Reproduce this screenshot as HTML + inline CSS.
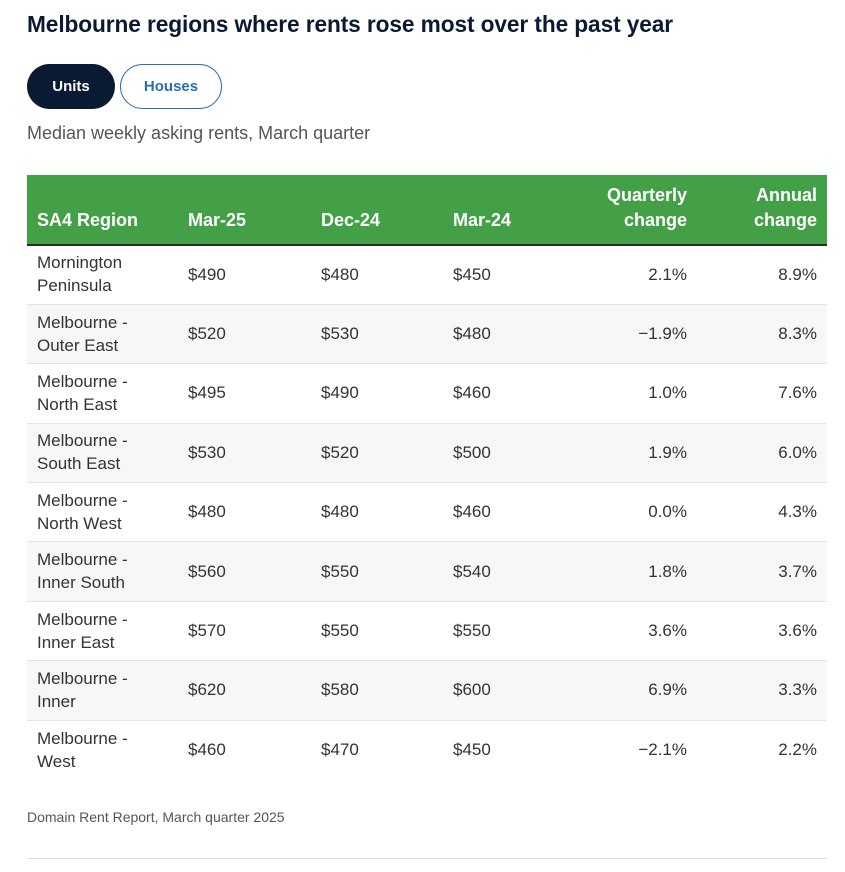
<!DOCTYPE html>
<html><head><meta charset="utf-8"><style>
*{margin:0;padding:0;box-sizing:border-box}
body{width:845px;height:872px;background:#fff;font-family:"Liberation Sans",sans-serif;position:relative;overflow:hidden}
h1{position:absolute;left:27px;top:11px;font-size:22.7px;font-weight:bold;color:#0b1a33;letter-spacing:-0.1px}
.btn{position:absolute;top:64px;height:45px;border-radius:23px;font-size:15px;font-weight:bold;display:flex;align-items:center;justify-content:center}
.u{left:27px;width:88px;background:#0b1a33;color:#fff}
.h{left:120px;width:102px;border:1.5px solid #2a6db5;color:#2a6db5;background:#fff}
.sub{position:absolute;left:27px;top:123px;font-size:18px;color:#555}
table{position:absolute;left:27px;top:175px;width:800px;border-collapse:collapse;font-size:17px;color:#333}
th{background:#43a047;color:#fff;font-weight:bold;font-size:18px;text-align:left;vertical-align:bottom;padding:0 10px 11px;height:70px;line-height:25px;border-bottom:2px solid #2a2a2a}
td{height:59.4px;padding:0 10px 1px;line-height:23px;border-bottom:1px solid #e3e3e3}
tr:nth-child(odd) td{background:#f7f7f7}
.r{text-align:right}
.foot{position:absolute;left:27px;top:809px;font-size:14px;color:#555}
.line{position:absolute;left:27px;top:858px;width:800px;height:1px;background:#ddd}
</style></head><body>
<h1>Melbourne regions where rents rose most over the past year</h1>
<div class="btn u">Units</div><div class="btn h">Houses</div>
<div class="sub">Median weekly asking rents, March quarter</div>
<table>
<colgroup><col style="width:151px"><col style="width:133px"><col style="width:132px"><col style="width:115px"><col style="width:139px"><col style="width:130px"></colgroup>
<tr><th>SA4 Region</th><th>Mar-25</th><th>Dec-24</th><th>Mar-24</th><th class="r">Quarterly change</th><th class="r">Annual change</th></tr>
<tr><td>Mornington Peninsula</td><td>$490</td><td>$480</td><td>$450</td><td class="r">2.1%</td><td class="r">8.9%</td></tr>
<tr><td>Melbourne - Outer East</td><td>$520</td><td>$530</td><td>$480</td><td class="r">−1.9%</td><td class="r">8.3%</td></tr>
<tr><td>Melbourne - North East</td><td>$495</td><td>$490</td><td>$460</td><td class="r">1.0%</td><td class="r">7.6%</td></tr>
<tr><td>Melbourne - South East</td><td>$530</td><td>$520</td><td>$500</td><td class="r">1.9%</td><td class="r">6.0%</td></tr>
<tr><td>Melbourne - North West</td><td>$480</td><td>$480</td><td>$460</td><td class="r">0.0%</td><td class="r">4.3%</td></tr>
<tr><td>Melbourne - Inner South</td><td>$560</td><td>$550</td><td>$540</td><td class="r">1.8%</td><td class="r">3.7%</td></tr>
<tr><td>Melbourne - Inner East</td><td>$570</td><td>$550</td><td>$550</td><td class="r">3.6%</td><td class="r">3.6%</td></tr>
<tr><td>Melbourne - Inner</td><td>$620</td><td>$580</td><td>$600</td><td class="r">6.9%</td><td class="r">3.3%</td></tr>
<tr><td style="border-bottom:none">Melbourne - West</td><td style="border-bottom:none">$460</td><td style="border-bottom:none">$470</td><td style="border-bottom:none">$450</td><td class="r" style="border-bottom:none">−2.1%</td><td class="r" style="border-bottom:none">2.2%</td></tr>
</table>
<div class="foot">Domain Rent Report, March quarter 2025</div>
<div class="line"></div>
</body></html>
